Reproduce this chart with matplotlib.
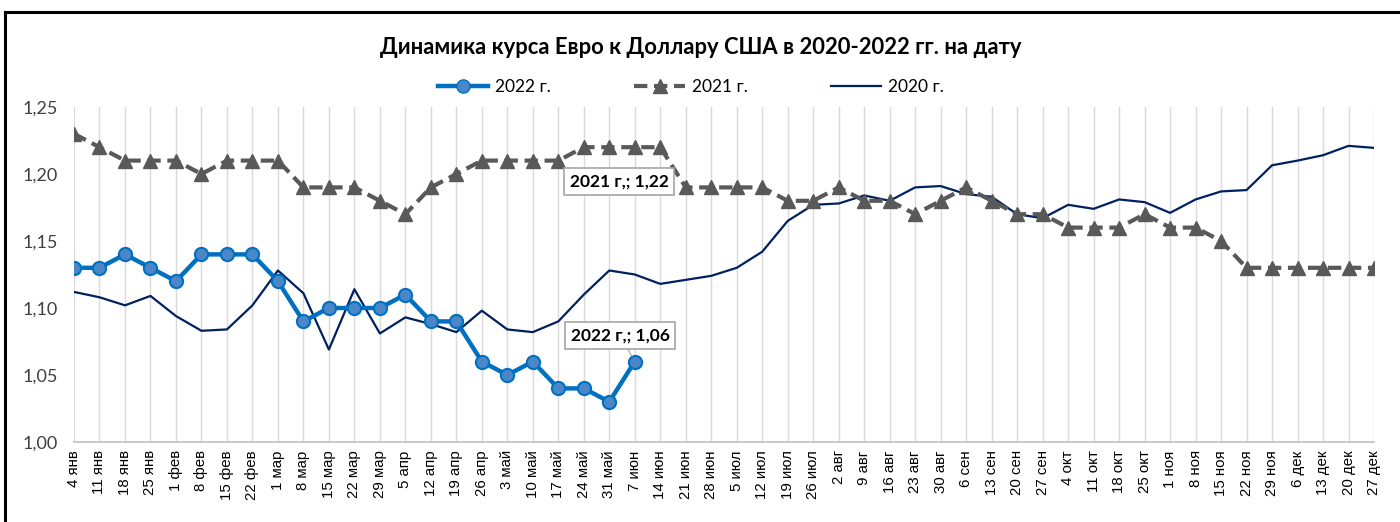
import matplotlib
matplotlib.use("Agg")
import matplotlib.pyplot as plt
from matplotlib.lines import Line2D
import numpy as np

categories = ["4 янв", "11 янв", "18 янв", "25 янв", "1 фев", "8 фев", "15 фев", "22 фев",
              "1 мар", "8 мар", "15 мар", "22 мар", "29 мар", "5 апр", "12 апр", "19 апр",
              "26 апр", "3 май", "10 май", "17 май", "24 май", "31 май", "7 июн", "14 июн",
              "21 июн", "28 июн", "5 июл", "12 июл", "19 июл", "26 июл", "2 авг", "9 авг",
              "16 авг", "23 авг", "30 авг", "6 сен", "13 сен", "20 сен", "27 сен", "4 окт",
              "11 окт", "18 окт", "25 окт", "1 ноя", "8 ноя", "15 ноя", "22 ноя", "29 ноя",
              "6 дек", "13 дек", "20 дек", "27 дек"]

y2022 = [1.13, 1.13, 1.14, 1.13, 1.12, 1.14, 1.14, 1.14, 1.12, 1.09, 1.10, 1.10,
         1.10, 1.11, 1.09, 1.09, 1.06, 1.05, 1.06, 1.04, 1.04, 1.03, 1.06]

y2021 = [1.23, 1.22, 1.21, 1.21, 1.21, 1.20, 1.21, 1.21, 1.21, 1.19, 1.19, 1.19,
         1.18, 1.17, 1.19, 1.20, 1.21, 1.21, 1.21, 1.21, 1.22, 1.22, 1.22, 1.22,
         1.19, 1.19, 1.19, 1.19, 1.18, 1.18, 1.19, 1.18, 1.18, 1.17, 1.18, 1.19,
         1.18, 1.17, 1.17, 1.16, 1.16, 1.16, 1.17, 1.16, 1.16, 1.15, 1.13, 1.13,
         1.13, 1.13, 1.13, 1.13]

y2020 = [1.112, 1.108, 1.102, 1.109, 1.094, 1.083, 1.084, 1.102, 1.128, 1.111, 1.069, 1.114,
         1.081, 1.093, 1.088, 1.082, 1.098, 1.084, 1.082, 1.090, 1.110, 1.128, 1.125, 1.118,
         1.121, 1.124, 1.130, 1.142, 1.165, 1.177, 1.178, 1.184, 1.180, 1.190, 1.191, 1.185,
         1.183, 1.170, 1.167, 1.177, 1.174, 1.181, 1.179, 1.171, 1.181, 1.187, 1.188, 1.2065,
         1.210, 1.214, 1.221, 1.2195]

yticks = [1.00, 1.05, 1.10, 1.15, 1.20, 1.25]
ytick_labels = ["1,00", "1,05", "1,10", "1,15", "1,20", "1,25"]

title = "Динамика курса Евро к Доллару США в 2020-2022 гг. на дату"
series_names = ["2022 г.", "2021 г.", "2020 г."]

W, H = 1400, 522
fig = plt.figure(figsize=(W / 100, H / 100), dpi=100)
ax = fig.add_axes([74 / W, 1 - 442 / H, (1374 - 74) / W, (442 - 107) / H])

x = np.arange(len(categories))
c22 = "#0070C0"
c21 = "#595959"
c20 = "#002060"

ax.plot(x, y2020, color=c20, lw=1.6, zorder=3)
ax.plot(x, y2021, color=c21, lw=3.0, ls=(0, (3.2, 1.6)), marker="^", ms=9.5,
        markerfacecolor=c21, markeredgecolor=c21, zorder=4)
ax.plot(x[:len(y2022)], y2022, color=c22, lw=3.2, marker="o", ms=9.5,
        markerfacecolor="#4A86C8", markeredgecolor=c22, markeredgewidth=1.5, zorder=5)

ax.set_xlim(0, len(categories) - 1)
ax.set_ylim(1.00, 1.25)
ax.set_yticks(yticks)
ax.set_yticklabels(ytick_labels, fontfamily="Lato", fontsize=13, color="#404040")
ax.set_xticks(x)
ax.set_xticklabels(categories, rotation=90, fontfamily="Liberation Sans", fontsize=10.8, color="black")
ax.tick_params(axis="both", length=0)
ax.tick_params(axis="y", pad=11.5)
ax.tick_params(axis="x", pad=6)
ax.grid(axis="x", color="#D9D9D9", lw=1.0)
ax.set_axisbelow(True)
for s in ["top", "right", "left"]:
    ax.spines[s].set_visible(False)
ax.spines["bottom"].set_color("#BFBFBF")
ax.spines["bottom"].set_linewidth(1.2)

# data labels
i21 = 22
i22 = len(y2022) - 1
ax.annotate(f"2021 г.; {y2021[i21]:.2f}".replace(".", ","), xy=(x[i21], y2021[i21]),
            xytext=(619, 522 - 181.5), textcoords="figure pixels",
            ha="center", va="center", fontsize=12.5, fontweight="bold", fontfamily="Lato",
            bbox=dict(boxstyle="square,pad=0.3", fc="white", ec="#A6A6A6", lw=1.2), zorder=6)
ax.annotate(f"2022 г.; {y2022[i22]:.2f}".replace(".", ","), xy=(x[i22], y2022[i22]),
            xytext=(620, 522 - 335.5), textcoords="figure pixels",
            ha="center", va="center", fontsize=12.5, fontweight="bold", fontfamily="Lato",
            bbox=dict(boxstyle="square,pad=0.3", fc="white", ec="#A6A6A6", lw=1.2),
            arrowprops=dict(arrowstyle="-", color="#A6A6A6", lw=0.8, shrinkA=0, shrinkB=5),
            zorder=6)

# legend
handles = [
    Line2D([], [], color=c22, lw=3.2, marker="o", ms=9.5, markerfacecolor="#4A86C8",
           markeredgecolor=c22),
    Line2D([], [], color=c21, lw=3.0, ls=(0, (3.2, 1.6)), marker="^", ms=9.5,
           markerfacecolor=c21, markeredgecolor=c21),
    Line2D([], [], color=c20, lw=1.6),
]
fig.legend(handles, series_names, loc="center", bbox_to_anchor=(691 / W, 1 - 87 / H),
           ncol=3, frameon=False, handlelength=2.9, handletextpad=0.4, columnspacing=4.8,
           prop={"family": "Lato", "size": 12.5}, borderpad=0, borderaxespad=0)

fig.text(701 / W, 1 - 47 / H, title, ha="center", va="center", fontsize=15.8,
         fontweight="bold", fontfamily="Lato", color="black")

# chart frame (top and left edges visible)
fig.add_artist(Line2D([5 / W, 1.0], [1 - 12 / H, 1 - 12 / H], color="black", lw=2.2,
                      transform=fig.transFigure))
fig.add_artist(Line2D([5 / W, 5 / W], [0, 1 - 12 / H], color="black", lw=2.2,
                      transform=fig.transFigure))

fig.savefig("out.png", dpi=100, facecolor="white")
